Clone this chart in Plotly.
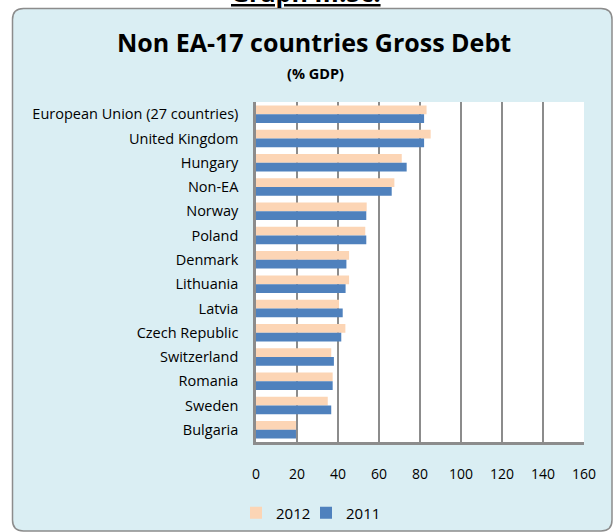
import plotly.graph_objects as go

countries = [
    "European Union (27 countries)", "United Kingdom", "Hungary", "Non-EA",
    "Norway", "Poland", "Denmark", "Lithuania", "Latvia", "Czech Republic",
    "Switzerland", "Romania", "Sweden", "Bulgaria",
]
debt_2012 = [83.2, 85.2, 71.1, 67.5, 54.0, 53.3, 45.4, 45.4, 40.5, 43.6, 36.7, 37.4, 35.0, 19.5]
debt_2011 = [82.0, 82.0, 73.5, 66.2, 53.8, 53.8, 44.1, 43.7, 42.3, 41.6, 38.0, 37.4, 36.7, 19.5]
x_ticks = [0, 20, 40, 60, 80, 100, 120, 140, 160]

W, H = 614, 532
ML, MR, MT, MB = 256, 30, 102, 90
PW, PH = W - ML - MR, H - MT - MB
FONT = "Open Sans, Lato, sans-serif"


def px(x):
    return (x - ML) / PW


def py(y):
    return (H - MB - y) / PH


fig = go.Figure()
fig.add_trace(go.Bar(y=countries, x=debt_2012, orientation="h", name="2012",
                     legend="legend",
                     marker=dict(color="#FCD5B5", line=dict(width=0))))
fig.add_trace(go.Bar(y=countries, x=debt_2011, orientation="h", name="2011",
                     legend="legend2",
                     marker=dict(color="#4F81BD", line=dict(width=0))))

# rounded chart-area box
x0, x1, y0, y1, r = 12.5, 612, 8.5, 531, 11
rx, ry = r / PW, r / PH
path = (
    f"M {px(x0)+rx},{py(y0)} L {px(x1)-rx},{py(y0)} Q {px(x1)},{py(y0)} {px(x1)},{py(y0)-ry} "
    f"L {px(x1)},{py(y1)+ry} Q {px(x1)},{py(y1)} {px(x1)-rx},{py(y1)} "
    f"L {px(x0)+rx},{py(y1)} Q {px(x0)},{py(y1)} {px(x0)},{py(y1)+ry} "
    f"L {px(x0)},{py(y0)-ry} Q {px(x0)},{py(y0)} {px(x0)+rx},{py(y0)} Z"
)
shapes = [
    dict(type="path", xref="paper", yref="paper", path=path, layer="below",
         fillcolor="#DAEEF3", line=dict(color="#8C8C8C", width=1.5)),
    dict(type="rect", xref="paper", yref="paper", x0=0, x1=1, y0=0, y1=1,
         layer="below", fillcolor="white", line=dict(width=0)),
]

annotations = [
    dict(text="<b><u>Graph III.5c:</u></b>", xref="paper", yref="paper",
         x=px(306), y=py(11), xanchor="center", yanchor="bottom", showarrow=False,
         font=dict(family=FONT, size=25, color="black")),
    dict(text="<b>Non EA-17 countries Gross Debt</b>", xref="paper", yref="paper",
         x=px(314), y=py(42), xanchor="center", yanchor="middle", showarrow=False,
         font=dict(family=FONT, size=25, color="black")),
    dict(text="<b>(% GDP)</b>", xref="paper", yref="paper",
         x=px(315), y=py(73), xanchor="center", yanchor="middle", showarrow=False,
         font=dict(family=FONT, size=14.5, color="black")),
]

legend_common = dict(orientation="h", xref="paper", xanchor="left",
                     yref="container", y=(H - 513) / H, yanchor="middle",
                     font=dict(size=15), bgcolor="rgba(0,0,0,0)", itemwidth=30)

fig.update_layout(
    width=W, height=H,
    margin=dict(l=ML, r=MR, t=MT, b=MB, pad=0, autoexpand=False),
    paper_bgcolor="white",
    plot_bgcolor="rgba(0,0,0,0)",
    barmode="group", bargap=0.28, bargroupgap=0,
    font=dict(family=FONT, size=14, color="black"),
    showlegend=True,
    legend=dict(x=px(236), **legend_common),
    legend2=dict(x=px(306), **legend_common),
    shapes=shapes,
    annotations=annotations,
    xaxis=dict(range=[0, 160], tickvals=x_ticks, ticktext=[str(v) for v in x_ticks],
               showgrid=True, gridcolor="#8C8C8C", gridwidth=1.5,
               showline=True, linecolor="#8C8C8C", linewidth=2.5,
               zeroline=False, ticks="", ticklabelstandoff=17, automargin=False,
               tickfont=dict(size=14), fixedrange=True),
    yaxis=dict(autorange="reversed", showgrid=False, showline=True,
               linecolor="#8C8C8C", linewidth=2.5, ticks="", automargin=False,
               ticklabelstandoff=12, tickfont=dict(size=14.5), fixedrange=True),
)

fig.write_html("out.html", config={"displayModeBar": False},
               post_script="document.body.style.margin='0px';document.body.style.overflow='hidden';")
